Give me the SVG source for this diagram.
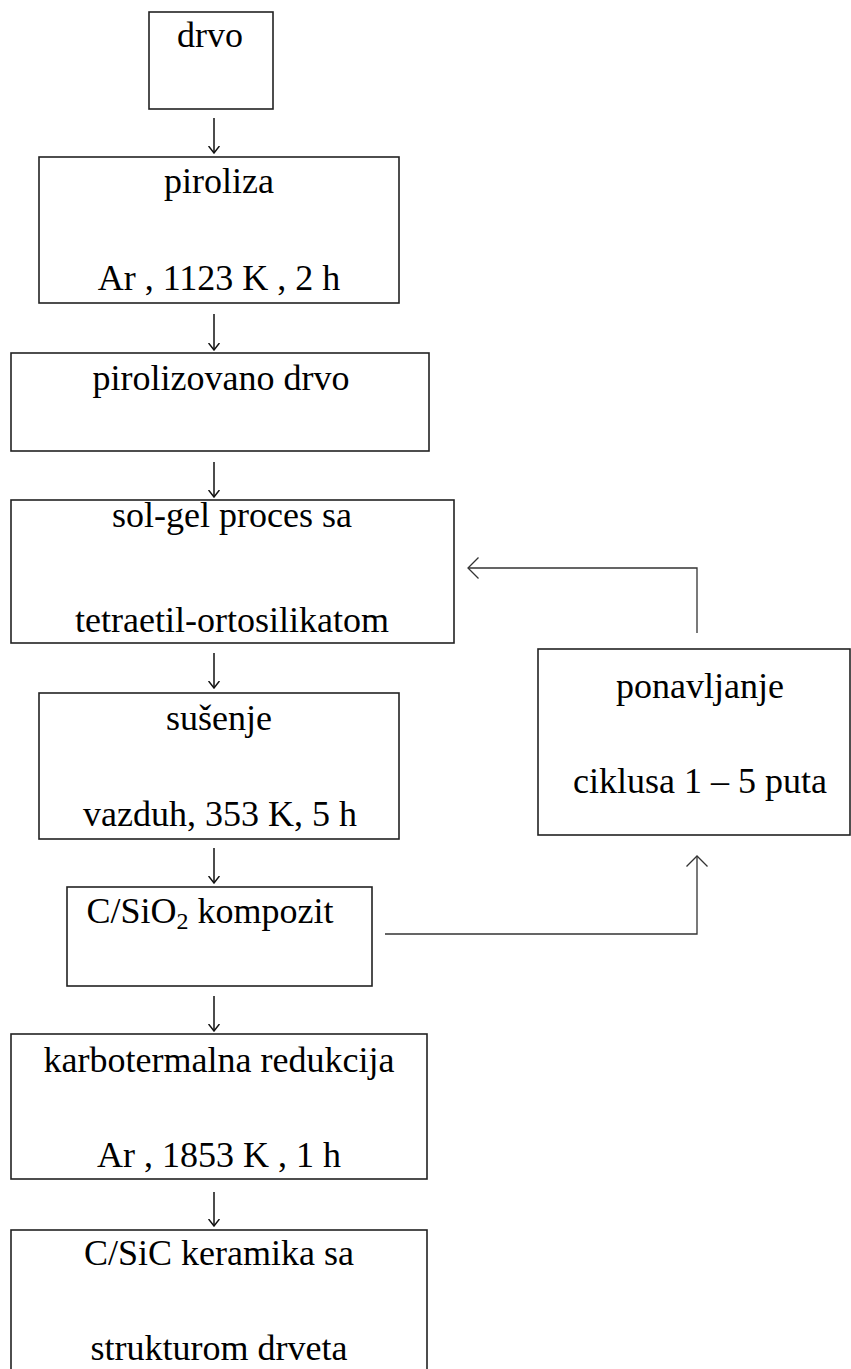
<svg xmlns="http://www.w3.org/2000/svg" width="851" height="1369" viewBox="0 0 851 1369">
<style>
.box{fill:#fff;stroke:#222;stroke-width:1.6}
.t{font-family:"Liberation Serif","Times New Roman",serif;font-size:36px;fill:#000;text-anchor:middle}
.c{fill:none;stroke:#111;stroke-width:1.5}
</style>
<defs>
<marker id="ah" viewBox="0 0 8 12" markerUnits="userSpaceOnUse" markerWidth="8" markerHeight="12" refX="7.5" refY="6" orient="auto">
<path d="M0.5,0.5 L7.5,6 L0.5,11.5" fill="none" stroke="#111" stroke-width="1.5"/>
</marker>
<marker id="ah2" viewBox="0 0 12 22" markerUnits="userSpaceOnUse" markerWidth="12" markerHeight="22" refX="11" refY="11" orient="auto">
<path d="M0.5,0.5 L11,11 L0.5,21.5" fill="none" stroke="#333" stroke-width="1.3"/>
</marker>
</defs>
<rect width="851" height="1369" fill="#fff"/>
<g id="connectors">
<line class="c" x1="214" y1="118" x2="214" y2="153" marker-end="url(#ah)"/>
<line class="c" x1="214" y1="314" x2="214" y2="350" marker-end="url(#ah)"/>
<line class="c" x1="214" y1="462" x2="214" y2="497" marker-end="url(#ah)"/>
<line class="c" x1="214" y1="653" x2="214" y2="688" marker-end="url(#ah)"/>
<line class="c" x1="214" y1="848" x2="214" y2="883" marker-end="url(#ah)"/>
<line class="c" x1="214" y1="996" x2="214" y2="1031" marker-end="url(#ah)"/>
<line class="c" x1="214" y1="1192" x2="214" y2="1226" marker-end="url(#ah)"/>
<path class="c" d="M385,934 H697 V856" marker-end="url(#ah2)" style="stroke:#333;stroke-width:1.3"/>
<path class="c" d="M697,633 V568 H468" marker-end="url(#ah2)" style="stroke:#333;stroke-width:1.3"/>
</g>
<g id="drvo">
<rect class="box" x="149" y="12" width="124" height="97"/>
<text class="t" x="210" y="47">drvo</text>
</g>
<g id="piroliza">
<rect class="box" x="39" y="157" width="360" height="146"/>
<text class="t" x="219" y="193">piroliza</text>
<text class="t" x="219" y="290">Ar , 1123 K , 2 h</text>
</g>
<g id="pirolizovano">
<rect class="box" x="11" y="353" width="418" height="98"/>
<text class="t" x="221" y="390">pirolizovano drvo</text>
</g>
<g id="solgel">
<rect class="box" x="11" y="500" width="443" height="143"/>
<text class="t" x="232" y="527">sol-gel proces sa</text>
<text class="t" x="232" y="632">tetraetil-ortosilikatom</text>
</g>
<g id="susenje">
<rect class="box" x="39" y="693" width="360" height="146"/>
<text class="t" x="219" y="730">sušenje</text>
<text class="t" x="220" y="826">vazduh, 353 K, 5 h</text>
</g>
<g id="ponavljanje">
<rect class="box" x="538" y="649" width="312" height="186"/>
<text class="t" x="700" y="698">ponavljanje</text>
<text class="t" x="700" y="793">ciklusa 1 – 5 puta</text>
</g>
<g id="kompozit">
<rect class="box" x="67" y="887" width="305" height="99"/>
<text class="t" x="210" y="923">C/SiO<tspan font-size="24" dy="6">2</tspan><tspan dy="-6"> kompozit</tspan></text>
</g>
<g id="karbotermalna">
<rect class="box" x="11" y="1034" width="416" height="145"/>
<text class="t" x="219" y="1072">karbotermalna redukcija</text>
<text class="t" x="219" y="1167">Ar , 1853 K , 1 h</text>
</g>
<g id="keramika">
<rect class="box" x="11" y="1230" width="416" height="160"/>
<text class="t" x="219" y="1265">C/SiC keramika sa</text>
<text class="t" x="219" y="1360">strukturom drveta</text>
</g>
</svg>
